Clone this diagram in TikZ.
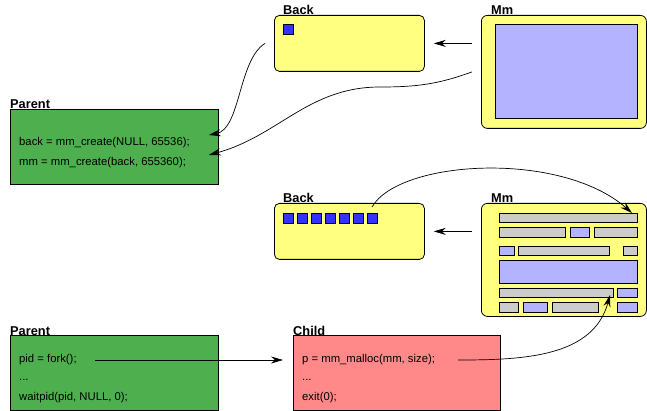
\documentclass[tikz,border=0pt]{standalone}
\usepackage{fontspec}
\setmainfont{Liberation Sans}
\usetikzlibrary{arrows.meta}
\definecolor{heapyellow}{RGB}{255,255,128}
\definecolor{heapblue}{RGB}{51,51,255}
\definecolor{heaplav}{RGB}{179,179,255}
\definecolor{heapgray}{RGB}{204,204,204}
\definecolor{procgreen}{RGB}{77,175,77}
\definecolor{procred}{RGB}{255,136,136}

\begin{document}
\begin{tikzpicture}[x=1pt,y=-1pt,
  box/.style={draw=black, line width=0.8pt, anchor=north west, inner sep=0pt},
  seg/.style={box, fill=heapyellow, rounded corners=5pt},
  proc/.style={box, minimum width=208pt, minimum height=75pt},
  title/.style={anchor=base west, inner sep=0pt, font=\fontsize{12.8}{14}\selectfont\bfseries},
  code/.style={anchor=west, inner sep=0pt, font=\fontsize{11.3}{13}\selectfont},
  cell/.style={draw=black, line width=0.7pt},
  ptr/.style={-{Stealth[length=12pt,width=7pt,inset=4pt]}, line width=0.7pt}]
\useasboundingbox (0,0) rectangle (647,411);

% first row: the two segments after mm_create
\node[seg, minimum width=150pt, minimum height=56pt] (back1) at (274,15) {};
\node[title] at ([xshift=9pt]back1.north west) {Back};
\filldraw[cell, fill=heapblue] (283,24) rectangle (293,34);

\node[seg, rounded corners=6pt, minimum width=165pt, minimum height=113pt] (mm1) at (481,15) {};
\node[title] at ([xshift=10pt]mm1.north west) {Mm};
\filldraw[cell, fill=heaplav] (495,24) rectangle (637,118);

\node[proc, fill=procgreen] (parent1) at (10,109) {};
\node[title] at (parent1.north west) {Parent};
\node[code] (pback) at (19,143) {back = mm\_create(NULL, 65536);};
\node[code] (pmm) at (19,163) {mm = mm\_create(back, 655360);};

\draw[ptr, shorten <=9pt, shorten >=9pt] (mm1.west |- back1.east) -- (back1.east);
\draw[ptr] ([xshift=-9pt]back1.west) .. controls +(-27,17) and +(32,-6)
  .. ([xshift=-10pt,yshift=8pt]parent1.east |- pback.east);
\coordinate (bend1) at (380,87);
\draw[ptr] ([xshift=-9pt]mm1.west) to[out=200,in=0] (bend1)
  to[out=180,in=15] ([xshift=-10pt,yshift=8pt]parent1.east |- pmm.east);

% second row: the segments after some allocations
\node[seg, minimum width=150pt, minimum height=56pt] (back2) at (274,203) {};
\node[title] at ([xshift=9pt]back2.north west) {Back};
\foreach \i in {0,...,6} {
    \filldraw[cell, fill=heapblue] (283+14*\i,213) rectangle +(10,10);
}
\coordinate (blk7) at (372,213);

\node[seg, rounded corners=6pt, minimum width=165pt, minimum height=113pt] (mm2) at (481,203) {};
\node[title] at ([xshift=10pt]mm2.north west) {Mm};
\foreach \xa/\ya/\xb/\yb in {499/213/637/222, 499/227/565/237, 594/227/637/237,
    518/246/609/255, 623/246/637/255, 499/288/613/297, 499/302/518/312, 552/302/598/312} {
    \filldraw[cell, fill=heapgray] (\xa,\ya) rectangle (\xb,\yb);
}
\foreach \xa/\ya/\xb/\yb in {570/227/589/237, 499/246/514/255, 499/260/637/283,
    617/288/637/297, 523/302/547/312, 617/302/637/312} {
    \filldraw[cell, fill=heaplav] (\xa,\ya) rectangle (\xb,\yb);
}
\coordinate (row1) at (637,213);
\coordinate (row5) at (613,297);

\draw[ptr, shorten <=9pt, shorten >=9pt] (mm2.west |- back2.east) -- (back2.east);
\draw[ptr] ([yshift=6pt]blk7) .. controls +(27,-47) and +(-72,-63) .. ([xshift=-5pt]row1);

% third row: fork and malloc
\node[proc, fill=procgreen] (parent2) at (10,335) {};
\node[title] at (parent2.north west) {Parent};
\node[code] (pfork) at (19,360) {pid = fork();};
\node[code] (pdots) at (19,380) {...};
\node[code] (pwait) at (19,398) {waitpid(pid, NULL, 0);};

\node[proc, fill=procred, minimum width=207pt] (child) at (293,335) {};
\node[title] at (child.north west) {Child};
\node[code] (cmalloc) at (302,360) {p = mm\_malloc(mm, size);};
\node[code] (cdots) at (302,380) {...};
\node[code] (cexit) at (302,398) {exit(0);};

\draw[ptr] ([xshift=18pt]pfork.east) -- ([xshift=-10pt]child.west |- pfork.east);
\draw[ptr] ([xshift=23pt]cmalloc.east) to[out=0,in=255] ([shift={(-3pt,2pt)}]row5);
\end{tikzpicture}
\end{document}
